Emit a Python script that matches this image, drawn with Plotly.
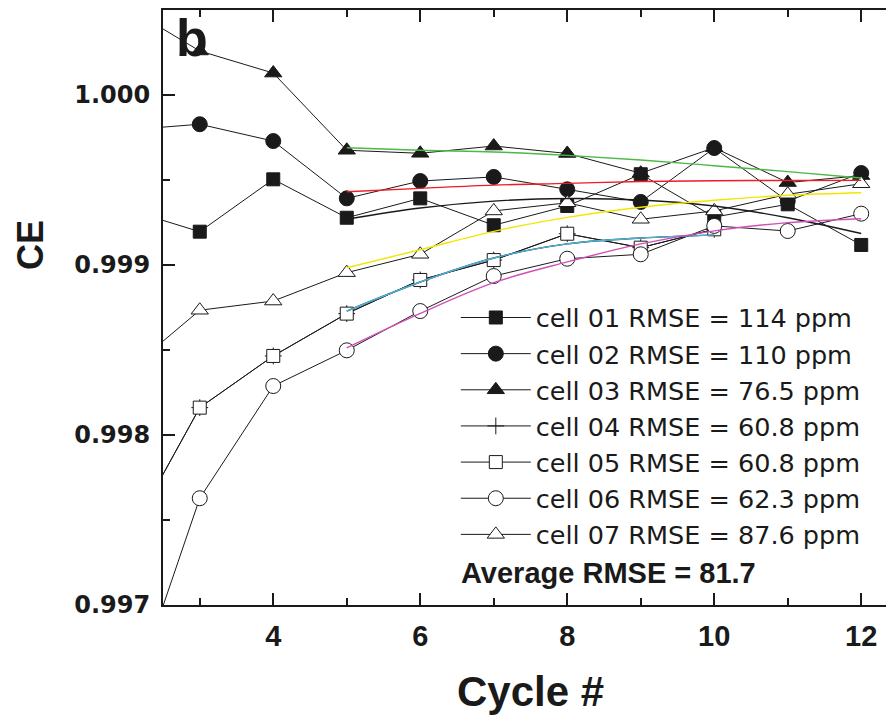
import plotly.graph_objects as go

# Cycle numbers (cycle 2 sits just left of the visible window, so lines enter from the edge)
cycles = [2, 3, 4, 5, 6, 7, 8, 9, 10, 11, 12]
cycles_short = [2, 3, 4, 5, 6, 7, 8, 9, 10]
fit_cycles = [5, 6, 7, 8, 9, 10, 11, 12]
fit_cycles_short = [5, 6, 7, 8, 9, 10]

# Measured coulombic efficiency per cell
ce_cell01 = [0.999329, 0.999196, 0.999504, 0.999278, 0.999392, 0.999234, 0.999347, 0.999534, 0.999282, 0.999357, 0.999118]
ce_cell02 = [0.999794, 0.999828, 0.999729, 0.999392, 0.999494, 0.999518, 0.999445, 0.999371, 0.999688, 0.999376, 0.999541]
ce_cell03 = [1.000518, 1.000259, 1.000129, 0.999675, 0.999657, 0.999700, 0.999656, 0.999540, 0.999690, 0.999485, 0.999526]
ce_cell04 = [0.997376, 0.998161, 0.998465, 0.998714, 0.998912, 0.999029, 0.999184, 0.999102, 0.999210]
ce_cell05 = [0.997376, 0.998161, 0.998465, 0.998714, 0.998912, 0.999029, 0.999184, 0.999102, 0.999210]
ce_cell06 = [0.996360, 0.997628, 0.998288, 0.998498, 0.998729, 0.998935, 0.999037, 0.999063, 0.999230, 0.999200, 0.999302]
ce_cell07 = [0.998370, 0.998734, 0.998788, 0.998955, 0.999063, 0.999318, 0.999366, 0.999269, 0.999318, 0.999416, 0.999478]

# Model fits from cycle 5 onward
fit_cell01 = [0.999269, 0.999335, 0.999376, 0.999391, 0.999382, 0.999347, 0.999278, 0.999185]
fit_cell02 = [0.999431, 0.999451, 0.999470, 0.999480, 0.999491, 0.999496, 0.999497, 0.999498]
fit_cell03 = [0.999690, 0.999675, 0.999665, 0.999645, 0.999618, 0.999584, 0.999549, 0.999512]
fit_cell04 = [0.998729, 0.998900, 0.999041, 0.999124, 0.999159, 0.999176]
fit_cell06 = [0.998512, 0.998715, 0.998896, 0.999018, 0.999124, 0.999201, 0.999249, 0.999272]
fit_cell07 = [0.998984, 0.999090, 0.999198, 0.999280, 0.999340, 0.999381, 0.999410, 0.999425]

legend_names = [
    "cell 01 RMSE = 114 ppm",
    "cell 02 RMSE = 110 ppm",
    "cell 03 RMSE = 76.5 ppm",
    "cell 04 RMSE = 60.8 ppm",
    "cell 05 RMSE = 60.8 ppm",
    "cell 06 RMSE = 62.3 ppm",
    "cell 07 RMSE = 87.6 ppm",
]
average_label = "Average RMSE = 81.7"

fig = go.Figure()

def data_trace(x, y, name, symbol, fill, size):
    fig.add_trace(go.Scatter(
        x=x, y=y, name=name, mode="lines+markers",
        line=dict(color="#1a1a1a", width=1),
        marker=dict(symbol=symbol, size=size, color=fill,
                    line=dict(color="#1a1a1a", width=1)),
    ))

data_trace(cycles, ce_cell01, legend_names[0], "square", "#1a1a1a", 13)
data_trace(cycles, ce_cell02, legend_names[1], "circle", "#1a1a1a", 15)
data_trace(cycles, ce_cell03, legend_names[2], "triangle-up", "#1a1a1a", 15)
data_trace(cycles_short, ce_cell04, legend_names[3], "cross-thin", "#1a1a1a", 12)
data_trace(cycles_short, ce_cell05, legend_names[4], "square", "white", 13)
data_trace(cycles, ce_cell06, legend_names[5], "circle", "white", 15)
data_trace(cycles, ce_cell07, legend_names[6], "triangle-up", "white", 15)

def fit_trace(x, y, color):
    fig.add_trace(go.Scatter(
        x=x, y=y, mode="lines", showlegend=False, hoverinfo="skip",
        line=dict(color=color, width=1.4, shape="spline"),
    ))

fit_trace(fit_cycles, fit_cell01, "#1a1a1a")
fit_trace(fit_cycles_short, fit_cell04, "#1a1a1a")
fit_trace(fit_cycles_short, fit_cell04, "#4fb3d9")
fit_trace(fit_cycles, fit_cell06, "#d050b8")
fit_trace(fit_cycles, fit_cell07, "#f2e600")
fit_trace(fit_cycles, fit_cell02, "#ee1c25")
fit_trace(fit_cycles, fit_cell03, "#4db848")

axis_color = "#1a1a1a"
fig.update_layout(
    width=886, height=717,
    margin=dict(l=163, r=0, t=10, b=112),
    paper_bgcolor="white", plot_bgcolor="white",
    font=dict(family="Liberation Sans, Arial, sans-serif", color=axis_color),
    showlegend=True,
    legend=dict(
        x=0.405, y=0.522, xanchor="left", yanchor="top",
        bgcolor="rgba(0,0,0,0)", borderwidth=0,
        font=dict(family="DejaVu Sans, sans-serif", size=25.5, color=axis_color),
        itemwidth=70, tracegroupgap=0,
    ),
    xaxis=dict(
        range=[2.5, 12.337], tick0=0, dtick=2,
        showline=True, linewidth=2, linecolor=axis_color, mirror="allticks",
        ticks="inside", ticklen=12, tickwidth=2, tickcolor=axis_color,
        minor=dict(dtick=1, ticks="inside", ticklen=7, tickwidth=2, tickcolor=axis_color),
        tickfont=dict(family="Liberation Sans, Arial, sans-serif", size=29, color=axis_color, weight="bold"),
        ticklabelstandoff=4,
        showgrid=False, zeroline=False,
    ),
    yaxis=dict(
        range=[0.997, 1.0005], tick0=0.997, dtick=0.001, tickformat=".3f",
        showline=True, linewidth=2, linecolor=axis_color, mirror=False,
        ticks="inside", ticklen=12, tickwidth=2, tickcolor=axis_color,
        minor=dict(dtick=0.0005, ticks="inside", ticklen=7, tickwidth=2, tickcolor=axis_color),
        tickfont=dict(family="DejaVu Sans, sans-serif", size=24, color=axis_color, weight="bold"),
        ticklabelstandoff=6,
        showgrid=False, zeroline=False,
    ),
    annotations=[
        dict(text="b", xref="paper", yref="paper", x=0.04, y=0.953,
             showarrow=False, xanchor="center", yanchor="middle",
             font=dict(size=52, weight="bold", color=axis_color)),
        dict(text="CE", xref="paper", yref="paper", x=-0.184, y=0.605,
             showarrow=False, textangle=-90, xanchor="center", yanchor="middle",
             font=dict(size=36, weight="bold", color=axis_color)),
        dict(text="Cycle #", xref="x", yref="paper", x=7.5, y=-0.145,
             showarrow=False, xanchor="center", yanchor="middle",
             font=dict(size=42, weight="bold", color=axis_color)),
        dict(text=average_label, xref="paper", yref="paper", x=0.41, y=0.054,
             showarrow=False, xanchor="left", yanchor="middle",
             font=dict(size=29, weight="bold", color=axis_color)),
    ],
)

fig.write_html("out.html")
